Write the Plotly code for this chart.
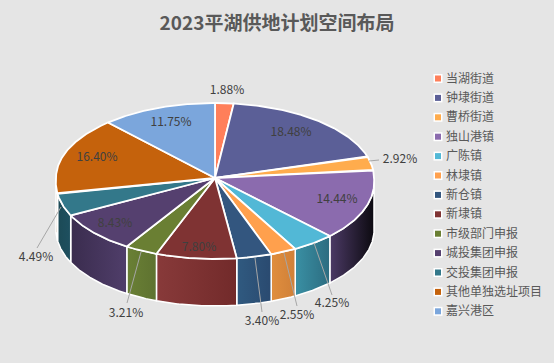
import math
import plotly.graph_objects as go

# ---- data ----
categories = ["当湖街道", "钟埭街道", "曹桥街道", "独山港镇", "广陈镇", "林埭镇", "新仓镇",
              "新埭镇", "市级部门申报", "城投集团申报", "交投集团申报", "其他单独选址项目", "嘉兴港区"]
shares = [1.88, 18.48, 2.92, 14.44, 4.25, 2.55, 3.40, 7.80, 3.21, 8.43, 4.49, 16.40, 11.75]

# ---- style ----
TITLE = "2023平湖供地计划空间布局"
FONT = "Noto Sans CJK SC, Microsoft YaHei, sans-serif"
colors = ["#FF7F5A", "#5B5F97", "#FFAC4D", "#8B6BAE", "#52B8D6", "#FFA04D", "#33567F",
          "#7F3333", "#6A7F33", "#55406F", "#33788A", "#C5620C", "#7BA6DC"]
wall_left = {3: "#4C3A66", 4: "#3A90A4", 5: "#E08E3E", 6: "#305A80", 7: "#883A3A",
             8: "#6A8035", 9: "#3A2C4E", 10: "#1C4A56", 11: "#7A3E08"}
wall_right = {3: "#0C0A10", 4: "#2C6C80", 5: "#D08038", 6: "#2A4A70", 7: "#722A2A",
              8: "#5E7230", 9: "#503E6A", 10: "#1E5060", 11: "#8A4608"}
CX, CY, RX, RY_BACK, RY_FRONT, DEPTH, PERSPECTIVE = 215, 178, 159, 75, 81, 47, 0.05
label_xy = [(227, 91), (291, 133), (400, 160), (337, 200), (332, 304), (297, 316), (262, 322),
            (199, 248), (126, 314), (115, 224), (36, 258), (97, 158), (171, 123)]
leaders = {2: ((369, 161), (379, 160)), 4: ((314, 243), (332, 295)), 5: ((284, 253), (297, 306)),
           6: ((255, 258), (262, 312)), 8: ((141, 252), (127, 303)), 10: ((61, 207), (37, 248))}
LEG_X, LEG_Y, LEG_STEP, LEG_TX, LEG_TEXT_DY = 438, 78.5, 19.4, 446, 1


def rim(deg, drop=0):
    t = math.radians(deg)
    c = math.cos(t)
    ry = RY_BACK if c > 0 else RY_FRONT
    k = 1 + PERSPECTIVE * max(0, -c)
    return CX + RX * k * math.sin(t), CY - ry * c + drop


def arc(a, b, drop=0):
    n = max(2, int(abs(b - a) * 2))
    return [rim(a + (b - a) * i / n, drop) for i in range(n + 1)]


fig = go.Figure()
edges = [0]
for s in shares:
    edges.append(edges[-1] + s * 3.6 / sum(shares) * 100)

# walls (front half only)
for i, name in enumerate(categories):
    a, b = max(edges[i], 90), min(edges[i + 1], 270)
    if b <= a:
        continue
    pts = arc(a, b) + arc(b, a, DEPTH)
    pts.append(pts[0])
    fig.add_trace(go.Scatter(
        x=[p[0] for p in pts], y=[p[1] for p in pts], mode="lines", fill="toself",
        fillgradient=dict(type="horizontal",
                          colorscale=[[0, wall_left[i]], [1, wall_right[i]]]),
        line=dict(color="#FFFFFF", width=1.5), hoverinfo="skip", showlegend=False))

# top faces
for i, name in enumerate(categories):
    pts = [(CX, CY)] + arc(edges[i], edges[i + 1]) + [(CX, CY)]
    fig.add_trace(go.Scatter(
        x=[p[0] for p in pts], y=[p[1] for p in pts], mode="lines", fill="toself",
        fillcolor=colors[i], line=dict(color="#FFFFFF", width=1.8), name=name,
        text=f"{name} {shares[i]:.2f}%", hoverinfo="text", showlegend=False))

# leader lines
for i, (p, q) in leaders.items():
    fig.add_trace(go.Scatter(x=[p[0], q[0]], y=[p[1], q[1]], mode="lines",
                             line=dict(color="#A6A6A6", width=1), hoverinfo="skip", showlegend=False))

# value labels
fig.add_trace(go.Scatter(
    x=[p[0] for p in label_xy], y=[p[1] for p in label_xy], mode="text",
    text=[f"{s:.2f}%" for s in shares], textposition="middle center",
    textfont=dict(family=FONT, size=12, color="#404040"), hoverinfo="skip", showlegend=False))

# legend
leg_y = [LEG_Y + k * LEG_STEP for k in range(len(categories))]
fig.add_trace(go.Scatter(x=[LEG_X] * len(categories), y=leg_y, mode="markers",
                         marker=dict(symbol="square", size=9, color="#FFFFFF"),
                         hoverinfo="skip", showlegend=False))
fig.add_trace(go.Scatter(x=[LEG_X] * len(categories), y=leg_y, mode="markers",
                         marker=dict(symbol="square", size=6, color=colors),
                         hoverinfo="skip", showlegend=False))
fig.add_trace(go.Scatter(x=[LEG_TX] * len(categories), y=[v + LEG_TEXT_DY for v in leg_y],
                         mode="text", text=categories, textposition="middle right",
                         textfont=dict(family=FONT, size=12, color="#595959"),
                         hoverinfo="skip", showlegend=False))

fig.update_layout(
    width=554, height=363, margin=dict(l=0, r=0, t=0, b=0),
    paper_bgcolor="#E5E5E5", plot_bgcolor="#E5E5E5", showlegend=False,
    title=dict(text=f"<b>{TITLE}</b>", x=0.5, xanchor="center", y=0.937, yanchor="middle",
               font=dict(family=FONT, size=19, color="#595959")),
    xaxis=dict(range=[0, 554], visible=False, fixedrange=True),
    yaxis=dict(range=[363, 0], visible=False, fixedrange=True),
)
fig.write_html("out.html", config={"displayModeBar": False},
               post_script="document.body.style.margin='0';document.body.style.overflow='hidden';"
                           "document.documentElement.style.overflow='hidden';")
